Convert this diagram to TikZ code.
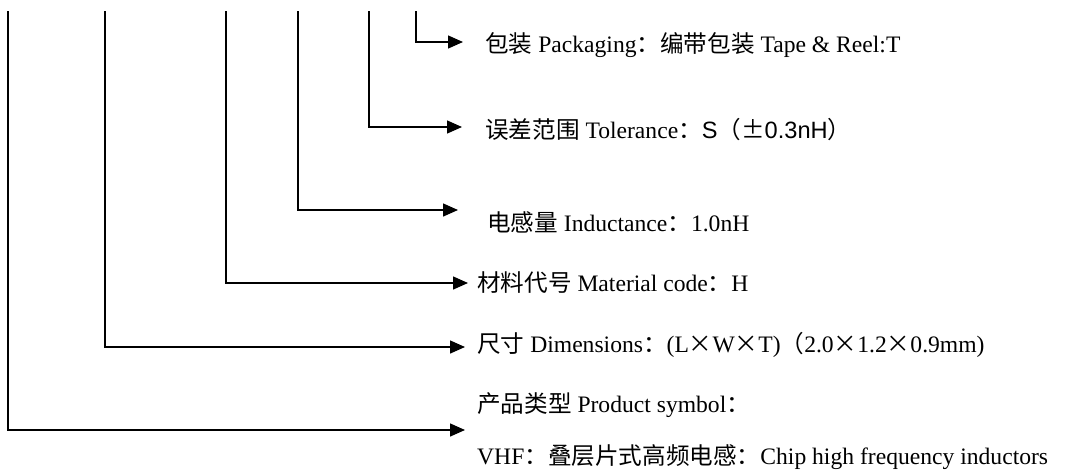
\documentclass[tikz,border=0pt]{standalone}
\usepackage{fontspec}
\setmainfont{Liberation Serif}
\newfontfamily\cjk{Noto Sans CJK SC}
\newfontfamily\arial{Liberation Sans}
\newcommand{\zh}[1]{{\cjk #1}}
\usetikzlibrary{arrows.meta, positioning}

\begin{document}
\begin{tikzpicture}[x=1pt, y=-1pt]
\tikzstyle{codetext} = [anchor=west, inner sep=0pt, font=\fontsize{23.6}{52}\selectfont]
\tikzstyle{arrow} = [line width=1.4pt, -{Triangle[length=15pt,width=13pt]}]

\useasboundingbox (0,0) rectangle (1067,472);

\coordinate (top1) at (8,11);
\coordinate (top2) at (105,11);
\coordinate (top3) at (226,11);
\coordinate (top4) at (298,11);
\coordinate (top5) at (369,11);
\coordinate (top6) at (416,11);

\node (pack) [codetext] at (485,45) {\zh{包装} Packaging\zh{：编带包装} Tape \& Reel:T};
\node (tol) [codetext] at (485,130) {\zh{误差范围} Tolerance\zh{：}{\arial S}\zh{（±}{\arial 0.3nH}\zh{）}};
\node (ind) [codetext] at (487,222) {\zh{电感量} Inductance\zh{：}1.0nH};
\node (mat) [codetext] at (477,283) {\zh{材料代号} Material code\zh{：}H};
\node (dim) [codetext] at (477,345) {\zh{尺寸} Dimensions\zh{：}(L\zh{×}W\zh{×}T)\zh{（}2.0\zh{×}1.2\zh{×}0.9mm)};
\node (prod) [codetext, align=left] at (477,431) {\zh{产品类型} Product symbol\zh{：}\\VHF\zh{：叠层片式高频电感：}Chip high frequency inductors};

\draw [arrow] (top6) |- ([xshift=-22pt, yshift=3pt]pack.west);
\draw [arrow] (top5) |- ([xshift=-23pt, yshift=3pt]tol.west);
\draw [arrow] (top4) |- ([xshift=-29pt, yshift=12pt]ind.west);
\draw [arrow] (top3) |- ([xshift=-9pt]mat.west);
\draw [arrow] (top2) |- ([xshift=-12pt, yshift=-2pt]dim.west);
\draw [arrow] (top1) |- ([xshift=-12pt, yshift=1pt]prod.west);

\end{tikzpicture}
\end{document}
